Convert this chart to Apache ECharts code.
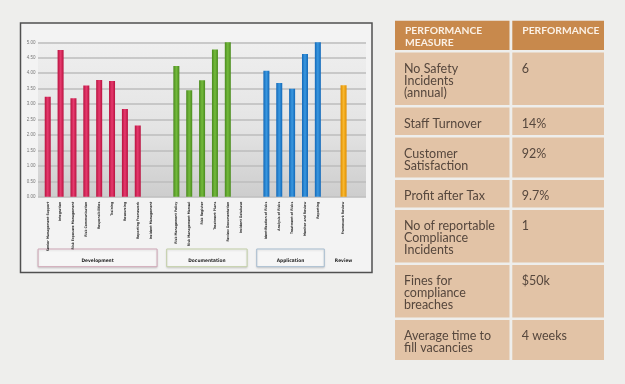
<!DOCTYPE html>
<html>
<head>
<meta charset="utf-8">
<script src="https://cdn.jsdelivr.net/npm/echarts@6/dist/echarts.min.js"></script>
<style>
html,body{margin:0;padding:0;background:#eeeeec;}
#c{width:625px;height:384px;}
</style>
</head>
<body>
<div id="c"></div>
<script>
// ---- chart data ----
const devLabels = ['Senior Management Support','Integration','Risk Exposure Management','Risk Communication','Responsibilities','Training','Resourcing','Reporting Framework','Incident Management'];
const devValues = [3.24, 4.75, 3.19, 3.60, 3.78, 3.75, 2.84, 2.31, 0];
const docLabels = ['Risk Management Policy','Risk Management Manual','Risk Register','Treatment Plans','Review Documentation','Incident Database'];
const docValues = [4.23, 3.45, 3.77, 4.77, 5.00, 0];
const appLabels = ['Identification of Risks','Analysis of Risks','Treatment of Risks','Monitor and Review','Reporting'];
const appValues = [4.08, 3.68, 3.50, 4.62, 5.00];
const revLabels = ['Framework Review'];
const revValues = [3.61];
const groupNames = ['Development','Documentation','Application','Review'];

// ---- table data ----
const tableHeaders = ['PERFORMANCE\nMEASURE', 'PERFORMANCE'];
const measures = ['No Safety\nIncidents\n(annual)', 'Staff Turnover', 'Customer\nSatisfaction', 'Profit after Tax', 'No of reportable\nCompliance\nIncidents', 'Fines for\ncompliance\nbreaches', 'Average time to\nfill vacancies'];
const performance = ['6', '14%', '92%', '9.7%', '1', '$50k', '4 weeks'];

// ---- build ----
const groups = [
  {labels: devLabels, values: devValues, dark: '#b8123f', light: '#e63a6e', box: '#cfa6b6'},
  {labels: docLabels, values: docValues, dark: '#4a8a1e', light: '#74bb3c', box: '#c2cfa6'},
  {labels: appLabels, values: appValues, dark: '#1268b8', light: '#3a98e0', box: '#a6bccf'},
  {labels: revLabels, values: revValues, dark: '#e08e00', light: '#f8b830', box: null}
];
const categories = [];
const ranges = [];
groups.forEach((g, gi) => {
  if (gi > 0) categories.push(' '.repeat(gi));
  const start = categories.length;
  g.labels.forEach(l => categories.push(l));
  ranges.push([start, categories.length - 1]);
});
const series = groups.map((g, gi) => {
  const data = categories.map(() => '-');
  g.values.forEach((v, i) => { data[ranges[gi][0] + i] = v; });
  return {
    type: 'bar', xAxisIndex: 1, yAxisIndex: 1, data: data,
    barWidth: 6, barGap: '-100%',
    itemStyle: {color: new echarts.graphic.LinearGradient(0, 0, 1, 0, [
      {offset: 0, color: g.dark}, {offset: 0.5, color: g.light}, {offset: 1, color: g.dark}])}
  };
});

const chart = echarts.init(document.getElementById('c'), null, {renderer: 'canvas'});
const GT = 42.3, GB = 384 - 196.8;
chart.setOption({
  animation: false,
  grid: [
    {left: 38, right: 625 - 366, top: GT, bottom: GB, show: true, borderWidth: 0,
     backgroundColor: new echarts.graphic.LinearGradient(0, 0, 0, 1, [
       {offset: 0, color: '#efefef'}, {offset: 0.55, color: '#e4e4e4'}, {offset: 1, color: '#cdcdcd'}])},
    {left: 41.3, right: 625 - 350, top: GT, bottom: GB}
  ],
  xAxis: [
    {type: 'value', gridIndex: 0, show: false, min: 0, max: 1},
    {type: 'category', gridIndex: 1, data: categories,
     axisLine: {show: false}, axisTick: {show: false},
     axisLabel: {interval: 0, rotate: 90, fontSize: 3.4, margin: 5, color: '#2a2a2a',
                 fontFamily: 'DejaVu Sans Condensed', fontWeight: 'bold'}}
  ],
  yAxis: [
    {type: 'value', gridIndex: 0, min: 0, max: 5, interval: 0.5,
     axisLine: {show: false}, axisTick: {show: false},
     splitLine: {lineStyle: {color: '#bdbdbd', width: 1.5}},
     axisLabel: {formatter: v => v.toFixed(2), fontSize: 4.5, margin: 2.5, color: '#777'}},
    {type: 'value', gridIndex: 1, min: 0, max: 5, show: false, splitLine: {show: false}}
  ],
  series: series
});

// ---- graphics: frame, group boxes, table ----
const els = [];
els.push({type: 'rect', z: -10, shape: {x: 20.5, y: 23, width: 351.5, height: 249.5},
  style: {fill: '#f3f3f3', stroke: '#505050', lineWidth: 1.5}});

const slot = chart.convertToPixel({xAxisIndex: 1}, 1) - chart.convertToPixel({xAxisIndex: 1}, 0);
groups.forEach((g, gi) => {
  const x0 = chart.convertToPixel({xAxisIndex: 1}, ranges[gi][0]);
  const x1 = chart.convertToPixel({xAxisIndex: 1}, ranges[gi][1]);
  let cx = (x0 + x1) / 2;
  if (g.box) {
    const bx0 = x0 - slot * 0.75, bx1 = x1 + slot * 0.5;
    cx = (bx0 + bx1) / 2;
    els.push({type: 'rect', z: -5, shape: {x: bx0, y: 249, width: bx1 - bx0, height: 17.7},
      style: {fill: '#f6f6f6', stroke: g.box, lineWidth: 1, shadowBlur: 2, shadowColor: 'rgba(0,0,0,0.12)', shadowOffsetY: 1}});
  }
  els.push({type: 'text', z: 6, x: cx, y: 260.7,
    style: {text: groupNames[gi], fontSize: 4.8, fontWeight: 'bold', fontFamily: 'DejaVu Sans Condensed',
            fill: '#2a2a2a', align: 'center', verticalAlign: 'middle'}});
});

// table
const colX = [395, 512.3], colW = [114.5, 91.7];
const headColor = '#c8894c', bodyColor = '#e2c3a6';
let y = 20.7;
const headH = 29.3;
tableHeaders.forEach((h, i) => {
  els.push({type: 'rect', shape: {x: colX[i], y: y, width: colW[i], height: headH}, style: {fill: headColor}});
  els.push({type: 'text', x: colX[i] + 10, y: y + 4.5,
    style: {text: h, fontSize: 10.3, lineHeight: 11.7, fontWeight: 'bold', fontFamily: 'Lato',
            fill: '#fbf1e6', align: 'left', verticalAlign: 'top'}});
});
y += headH + 2.5;
measures.forEach((m, r) => {
  const n = m.split('\n').length;
  const h = 15 + 12.5 * n;
  [m, performance[r]].forEach((t, i) => {
    els.push({type: 'rect', shape: {x: colX[i], y: y, width: colW[i], height: h}, style: {fill: bodyColor}});
    els.push({type: 'text', x: colX[i] + (i === 0 ? 9 : 9.5), y: y + 10,
      style: {text: t, fontSize: 12.5, lineHeight: 12, fontFamily: 'Lato',
              fill: '#56473d', align: 'left', verticalAlign: 'top'}});
  });
  y += h + 2.5;
});

chart.setOption({graphic: {elements: els}});
</script>
</body>
</html>
